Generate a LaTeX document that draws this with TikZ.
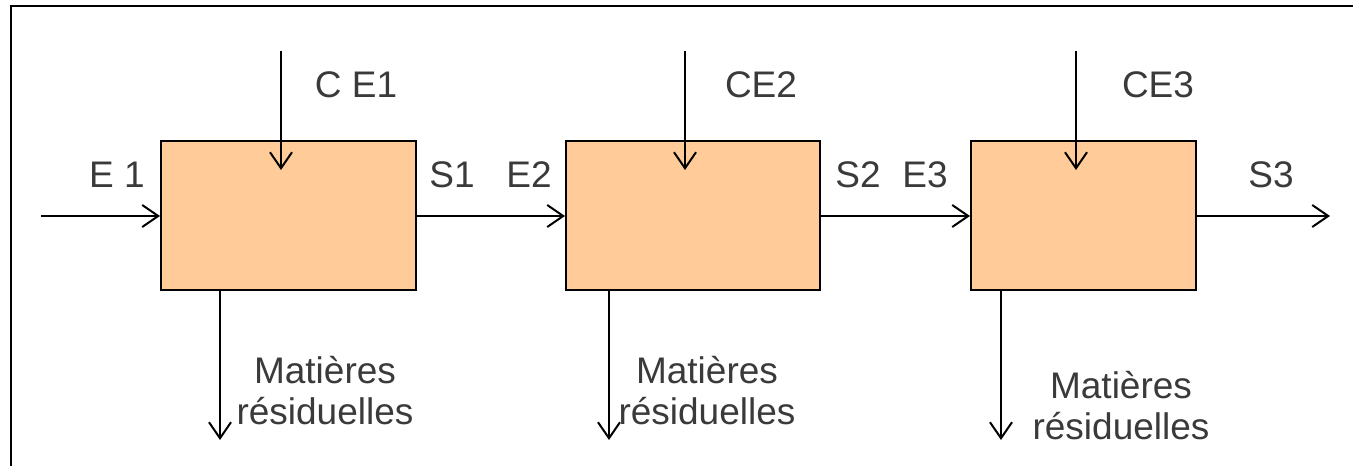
\documentclass[tikz,border=0pt]{standalone}
\usepackage{fontspec}
\setmainfont{Liberation Sans}
\usetikzlibrary{arrows.meta}

\definecolor{boxfill}{HTML}{FFCC99}
\definecolor{txtgray}{HTML}{3A3A3A}

\tikzset{
  etape/.style={draw,line width=2pt,fill=boxfill,minimum height=149pt,inner sep=0pt},
  flux/.style={line width=2pt,-{Straight Barb[length=16pt,width=22pt,line width=2pt]}},
  lbl/.style={text=txtgray,font=\fontsize{37}{41}\selectfont,inner sep=0pt,align=center}
}

\begin{document}
\begin{tikzpicture}[x=1pt,y=-1pt]
\useasboundingbox (0,0) rectangle (1353,466);
% cadre
\draw[line width=2pt] (11,466) -- (11,6) -- (1353,6);

% etapes
\node[etape,minimum width=255pt] (b1) at (288.5,215.5) {};
\node[etape,minimum width=254pt] (b2) at (693,215.5) {};
\node[etape,minimum width=225pt] (b3) at (1083.5,215.5) {};

% extremites libres
\coordinate (e1) at (41,216);
\coordinate (s3) at (1330,216);
\coordinate (ce1) at (281,51);
\coordinate (ce2) at (685,51);
\coordinate (ce3) at (1076,51);
\coordinate (ce1e) at (281,170);
\coordinate (ce2e) at (685,170);
\coordinate (ce3e) at (1076,170);
\coordinate (m1) at (220,440);
\coordinate (m2) at (609,440);
\coordinate (m3) at (1001,440);

% flux principal
\draw[flux] (e1) -- (b1.west |- e1);
\draw[flux] (b1.east |- e1) -- (b2.west |- e1);
\draw[flux] (b2.east |- e1) -- (b3.west |- e1);
\draw[flux] (b3.east |- e1) -- (s3);

% entrees et sorties
\draw[flux] (ce1) -- (ce1e);
\draw[flux] (ce2) -- (ce2e);
\draw[flux] (ce3) -- (ce3e);
\draw[flux] (b1.south -| m1) -- (m1);
\draw[flux] (b2.south -| m2) -- (m2);
\draw[flux] (b3.south -| m3) -- (m3);

% textes
\node[lbl] (tce1) at (356,85) {C E1};
\node[lbl] (tce2) at (761,85) {CE2};
\node[lbl] (tce3) at (1158,85) {CE3};
\node[lbl] (te1) at (117,175) {E 1};
\node[lbl] (ts1) at (452,175) {S1};
\node[lbl] (te2) at (529,175) {E2};
\node[lbl] (ts2) at (858,175) {S2};
\node[lbl] (te3) at (925,175) {E3};
\node[lbl] (ts3) at (1271,175) {S3};
\node[lbl] (mr1) at (325,391) {Matières\\résiduelles};
\node[lbl] (mr2) at (707,391) {Matières\\résiduelles};
\node[lbl] (mr3) at (1121,406) {Matières\\résiduelles};
\end{tikzpicture}
\end{document}
